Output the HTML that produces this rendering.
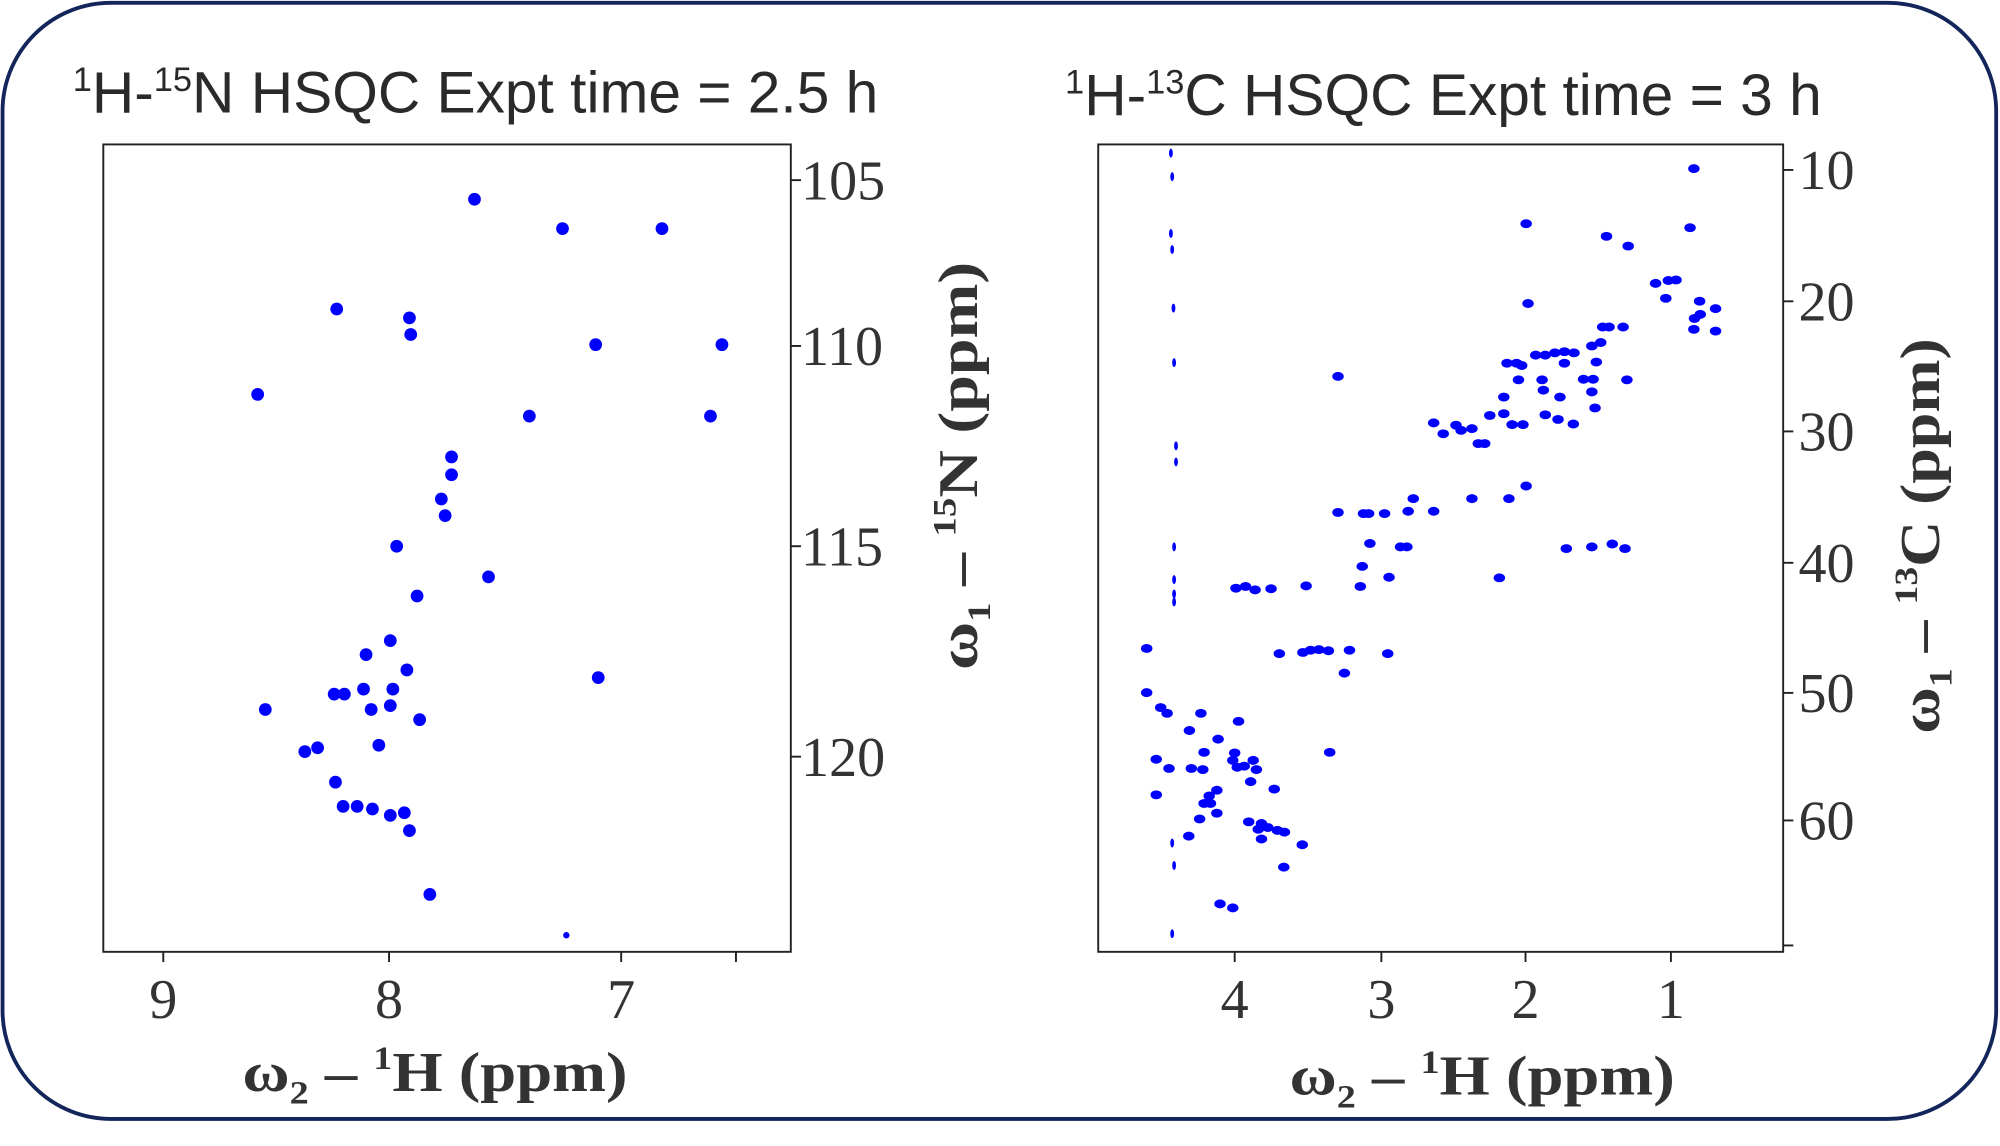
<!DOCTYPE html>
<html><head><meta charset="utf-8"><style>
html,body{margin:0;padding:0;background:#fff;}
svg{display:block;}
.t{font-family:"Liberation Sans",sans-serif;font-size:46px;fill:#2a2a2a;}
.k{font-family:"Liberation Serif",serif;font-size:44px;fill:#333;}
.a{font-family:"Liberation Serif",serif;font-size:44px;font-weight:bold;fill:#333;}
</style></head><body>
<svg id="s" width="2000" height="1146" viewBox="0 0 1568 898" xmlns="http://www.w3.org/2000/svg">
<rect x="2" y="2" width="1563" height="875" rx="85" ry="85" fill="#fff" stroke="#13255a" stroke-width="3"/>
<text class="t" x="57" y="88"><tspan font-size="27" dy="-17">1</tspan><tspan dy="17">H-</tspan><tspan font-size="27" dy="-17">15</tspan><tspan dy="17">N HSQC Expt time = 2.5 h</tspan></text>
<text class="t" x="835" y="90"><tspan font-size="27" dy="-17">1</tspan><tspan dy="17">H-</tspan><tspan font-size="27" dy="-17">13</tspan><tspan dy="17">C HSQC Expt time = 3 h</tspan></text>
<rect x="81" y="113" width="539" height="633" fill="none" stroke="#222" stroke-width="1.5"/>
<rect x="861" y="113" width="537" height="633" fill="none" stroke="#222" stroke-width="1.5"/>
<g stroke="#222" stroke-width="1.5">
<line x1="620" y1="141" x2="628" y2="141"/><line x1="620" y1="271" x2="628" y2="271"/><line x1="620" y1="428" x2="628" y2="428"/><line x1="620" y1="593" x2="628" y2="593"/>
<line x1="128" y1="746" x2="128" y2="754"/><line x1="305" y1="746" x2="305" y2="754"/><line x1="487" y1="746" x2="487" y2="754"/><line x1="577" y1="746" x2="577" y2="754"/>
<line x1="1398" y1="133" x2="1406" y2="133"/><line x1="1398" y1="236" x2="1406" y2="236"/><line x1="1398" y1="338" x2="1406" y2="338"/><line x1="1398" y1="441" x2="1406" y2="441"/><line x1="1398" y1="543" x2="1406" y2="543"/><line x1="1398" y1="643" x2="1406" y2="643"/><line x1="1398" y1="741" x2="1406" y2="741"/>
<line x1="968" y1="746" x2="968" y2="754"/><line x1="1083" y1="746" x2="1083" y2="754"/><line x1="1196" y1="746" x2="1196" y2="754"/><line x1="1310" y1="746" x2="1310" y2="754"/>
</g>
<g class="k">
<text x="628" y="156">105</text><text x="628" y="286">110</text><text x="628" y="443">115</text><text x="628" y="608">120</text>
<text x="1410" y="148">10</text><text x="1410" y="251">20</text><text x="1410" y="353">30</text><text x="1410" y="456">40</text><text x="1410" y="558">50</text><text x="1410" y="658">60</text>
</g>
<g class="k" text-anchor="middle">
<text x="128" y="798">9</text><text x="305" y="798">8</text><text x="487" y="798">7</text>
<text x="968" y="798">4</text><text x="1083" y="798">3</text><text x="1196" y="798">2</text><text x="1310" y="798">1</text>
</g>
<text class="a" x="190" y="855" textLength="302" lengthAdjust="spacingAndGlyphs">ω<tspan font-size="26" dy="10">2</tspan><tspan dy="-10"> – </tspan><tspan font-size="26" dy="-17">1</tspan><tspan dy="17">H (ppm)</tspan></text>
<text class="a" x="1011" y="858" textLength="302" lengthAdjust="spacingAndGlyphs">ω<tspan font-size="26" dy="10">2</tspan><tspan dy="-10"> – </tspan><tspan font-size="26" dy="-17">1</tspan><tspan dy="17">H (ppm)</tspan></text>
<text class="a" transform="translate(766,525) rotate(-90)" textLength="320" lengthAdjust="spacingAndGlyphs">ω<tspan font-size="26" dy="10">1</tspan><tspan dy="-10"> – </tspan><tspan font-size="26" dy="-17">15</tspan><tspan dy="17">N (ppm)</tspan></text>
<text class="a" transform="translate(1520,575) rotate(-90)" textLength="310" lengthAdjust="spacingAndGlyphs">ω<tspan font-size="26" dy="10">1</tspan><tspan dy="-10"> – </tspan><tspan font-size="26" dy="-17">13</tspan><tspan dy="17">C (ppm)</tspan></text>
<g id="pk" fill="#0000ff"></g>
</svg>
<script>
var g=document.getElementById('pk'),ns='http://www.w3.org/2000/svg';
function e(x,y,rx,ry){var c=document.createElementNS(ns,'ellipse');c.setAttribute('cx',x);c.setAttribute('cy',y);c.setAttribute('rx',rx);c.setAttribute('ry',ry);g.appendChild(c);}
var L=[[372,156],[441,179],[519,179],[264,242],[321,249],[322,262],[467,270],[566,270],[202,309],[415,326],[557,326],[354,358],[354,372],[346,391],[349,404],[311,428],[383,452],[327,467],[306,502],[287,513],[319,525],[469,531],[262,544],[270,544],[285,540],[308,540],[208,556],[291,556],[306,553],[329,564],[239,589],[249,586],[297,584],[263,613],[269,632],[280,632],[292,634],[306,639],[317,637],[321,651],[337,701]];
L.forEach(function(p){e(p[0],p[1],5,5);});e(444,733,2.5,2.5);
var R=[[1088,119],[825,215],[951,237],[985,254],[1082,222],[1028,319],[1048,314],[1060,313],[1044,345],[1097,350],[1122,363],[1089,380],[1098,373],[1088,399],[1122,402],[828,354],[945,395],[955,395],[977,395],[928,428],[942,422],[935,456],[840,444],[855,444],[870,440],[885,438],[900,440],[885,458],[795,458],[810,458],[818,462],[813,487],[850,487],[852,505],[878,517],[790,517],[915,486],[930,486],[928,508],[933,536],[983,487],[530,481],[790,546],[768,549],[855,548],[875,556],[803,565],[820,565],[899,564],[680,562],[695,581],[715,566],[723,575],[740,572],[750,598],[760,598],[825,672],[740,694],[798,694],[648,694],[640,716],[680,716],[570,720],[578,720],[530,718],[603,720],[580,772],[628,778],[638,778],[928,778],[960,773],[980,781],[888,781],[568,812],[565,847],[610,831],[783,832],[370,850],[385,847],[400,853],[425,851],[480,846],[230,955],[438,964],[475,962],[487,958],[500,957],[515,959],[548,958],[608,964],[540,998],[230,1032],[252,1058],[262,1068],[315,1068],[297,1098],[374,1082],[342,1113],[320,1136],[368,1137],[245,1148],[265,1164],[300,1164],[318,1166],[365,1150],[372,1162],[383,1160],[397,1150],[402,1166],[245,1210],[340,1202],[393,1187],[430,1200],[328,1212],[320,1225],[330,1225],[340,1242],[313,1252],[390,1257],[410,1260],[405,1270],[420,1267],[435,1272],[410,1287],[446,1275],[474,1297],[517,1136],[296,1282],[445,1336],[345,1400],[365,1407]];
R.forEach(function(p){e(784+p[0]*0.5,78.4+p[1]*0.45,4.5,3.5);});
var V=[[268,92],[270,133],[268,232],[270,260],[272,362],[273,457],[276,602],[276,630],[273,778],[273,835],[273,860],[273,874],[270,1294],[273,1333],[270,1452]];
V.forEach(function(p){e(784+p[0]*0.5,78.4+p[1]*0.45,1.5,3.5);});
</script>
</body></html>
